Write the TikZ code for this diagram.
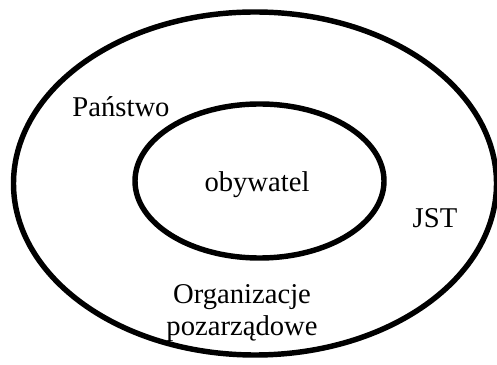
\documentclass[tikz,border=0pt]{standalone}
\usepackage{fontspec}
\setmainfont{Liberation Serif}
\tikzset{ring/.style={draw, line width=3.1pt},
  lbl/.style={font=\fontsize{16.3}{18.2}\selectfont, inner sep=0pt, anchor=base}}
\begin{document}
\begin{tikzpicture}
\useasboundingbox (0,0) rectangle (9.94,7.28);
\draw[ring](5.10,3.61) ellipse (4.83 and 3.43);
\draw[ring](5.19,3.66) ellipse (2.49 and 1.54);
\node[lbl] (panstwo) at (2.42,4.94) {Państwo};
\node[lbl] (obywatel) at (5.14,3.44) {obywatel};
\node[lbl] (jst) at (8.70,2.72) {JST};
\node[lbl, align=center] (ngo) at (4.84,0.57) {Organizacje\\pozarządowe};
\end{tikzpicture}
\end{document}
